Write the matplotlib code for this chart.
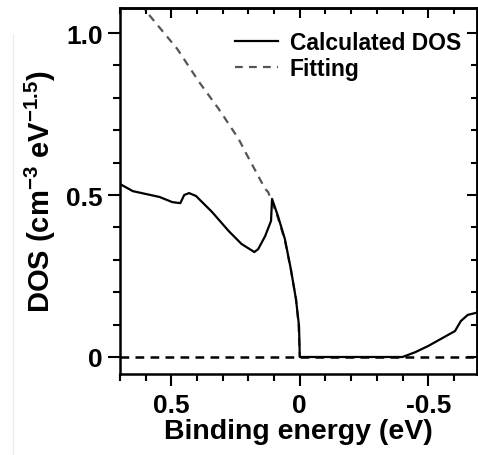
import matplotlib.pyplot as plt
from matplotlib.lines import Line2D
from matplotlib.ticker import MultipleLocator

plt.rcParams['font.family'] = ['Liberation Sans', 'DejaVu Sans']
plt.rcParams['font.weight'] = 'bold'
plt.rcParams['axes.labelweight'] = 'bold'
plt.rcParams['mathtext.fontset'] = 'custom'
plt.rcParams['mathtext.rm'] = 'Liberation Sans:bold'
plt.rcParams['mathtext.bf'] = 'Liberation Sans:bold'
plt.rcParams['mathtext.default'] = 'bf'
plt.rcParams['axes.unicode_minus'] = False

# Calculated DOS (binding energy in eV, DOS)
dos_energy = [0.70, 0.65, 0.546, 0.496, 0.465, 0.45, 0.431, 0.404, 0.342, 0.277,
              0.227, 0.177, 0.162, 0.135, 0.112, 0.108, 0.085, 0.058, 0.035, 0.015,
              0.003, 0.0, -0.40, -0.45, -0.50, -0.604, -0.627, -0.654, -0.69]
dos_value = [0.534, 0.512, 0.494, 0.478, 0.475, 0.50, 0.506, 0.497, 0.448, 0.389,
             0.349, 0.324, 0.333, 0.373, 0.42, 0.488, 0.435, 0.364, 0.272, 0.179,
             0.096, 0.0, 0.0, 0.015, 0.034, 0.08, 0.111, 0.130, 0.137]

# Fitting curve
fit_energy = [0.62, 0.596, 0.477, 0.392, 0.315, 0.238, 0.208, 0.135, 0.123,
              0.085, 0.058, 0.035, 0.015, 0.005, 0.0]
fit_value = [1.09, 1.065, 0.951, 0.849, 0.765, 0.673, 0.627, 0.519, 0.509,
             0.43, 0.36, 0.27, 0.18, 0.10, 0.0]

fig = plt.figure(figsize=(4.78, 4.56), dpi=100)
ax = fig.add_axes([0.251, 0.178, 0.747, 0.802])

ax.axhline(0, color='black', lw=1.8, dashes=(3.5, 2.5), zorder=1)
ax.plot(fit_energy, fit_value, color='#555555', lw=1.6, dashes=(3.5, 2.8),
        label='Fitting', zorder=2)
ax.plot(dos_energy, dos_value, color='black', lw=1.6, label='Calculated DOS', zorder=3)

ax.set_xlim(0.70, -0.69)
ax.set_ylim(-0.052, 1.077)

ax.xaxis.set_minor_locator(MultipleLocator(0.1))
ax.yaxis.set_minor_locator(MultipleLocator(0.1))
ax.set_xticks([0.5, 0, -0.5])
ax.set_xticklabels(['0.5', '0', '-0.5'])
ax.set_yticks([0, 0.5, 1.0])
ax.set_yticklabels(['0', '0.5', '1.0'])

ax.tick_params(which='both', direction='out', width=1.5, labelsize=19)
ax.tick_params(which='major', length=8.5)
ax.tick_params(which='minor', length=5)
ax.tick_params(axis='y', which='major', pad=4)
ax.tick_params(axis='x', which='major', pad=5)
for s in ax.spines.values():
    s.set_linewidth(1.8)

# mirrored ticks on top and right pointing inward
top = ax.secondary_xaxis('top')
top.xaxis.set_major_locator(MultipleLocator(0.5))
top.xaxis.set_minor_locator(MultipleLocator(0.1))
top.tick_params(which='both', direction='in', width=1.5, labeltop=False)
top.tick_params(which='major', length=7)
top.tick_params(which='minor', length=4.5)
top.spines['top'].set_linewidth(1.8)
right = ax.secondary_yaxis('right')
right.yaxis.set_major_locator(MultipleLocator(0.5))
right.yaxis.set_minor_locator(MultipleLocator(0.1))
right.tick_params(which='both', direction='in', width=1.5, labelright=False)
right.tick_params(which='major', length=7)
right.tick_params(which='minor', length=4.5)
right.spines['right'].set_linewidth(1.8)

ax.set_xlabel('Binding energy (eV)', fontsize=20.5, labelpad=1)
ax.set_ylabel('DOS (cm$^{-3}$ eV$^{-1.5}$)', fontsize=21, labelpad=6)

handles, labels = ax.get_legend_handles_labels()
ax.legend(handles[::-1], labels[::-1], loc='upper right', frameon=False, fontsize=16.5,
          handlelength=1.9, handletextpad=0.5, labelspacing=0.1,
          borderaxespad=0.3, bbox_to_anchor=(1.0, 0.98))

# faint scan edge on the left
fig.add_artist(Line2D([13 / 478, 13 / 478], [0, 1 - 35 / 456], color='#ebebeb', lw=0.8))

fig.savefig('out.png', dpi=100)
